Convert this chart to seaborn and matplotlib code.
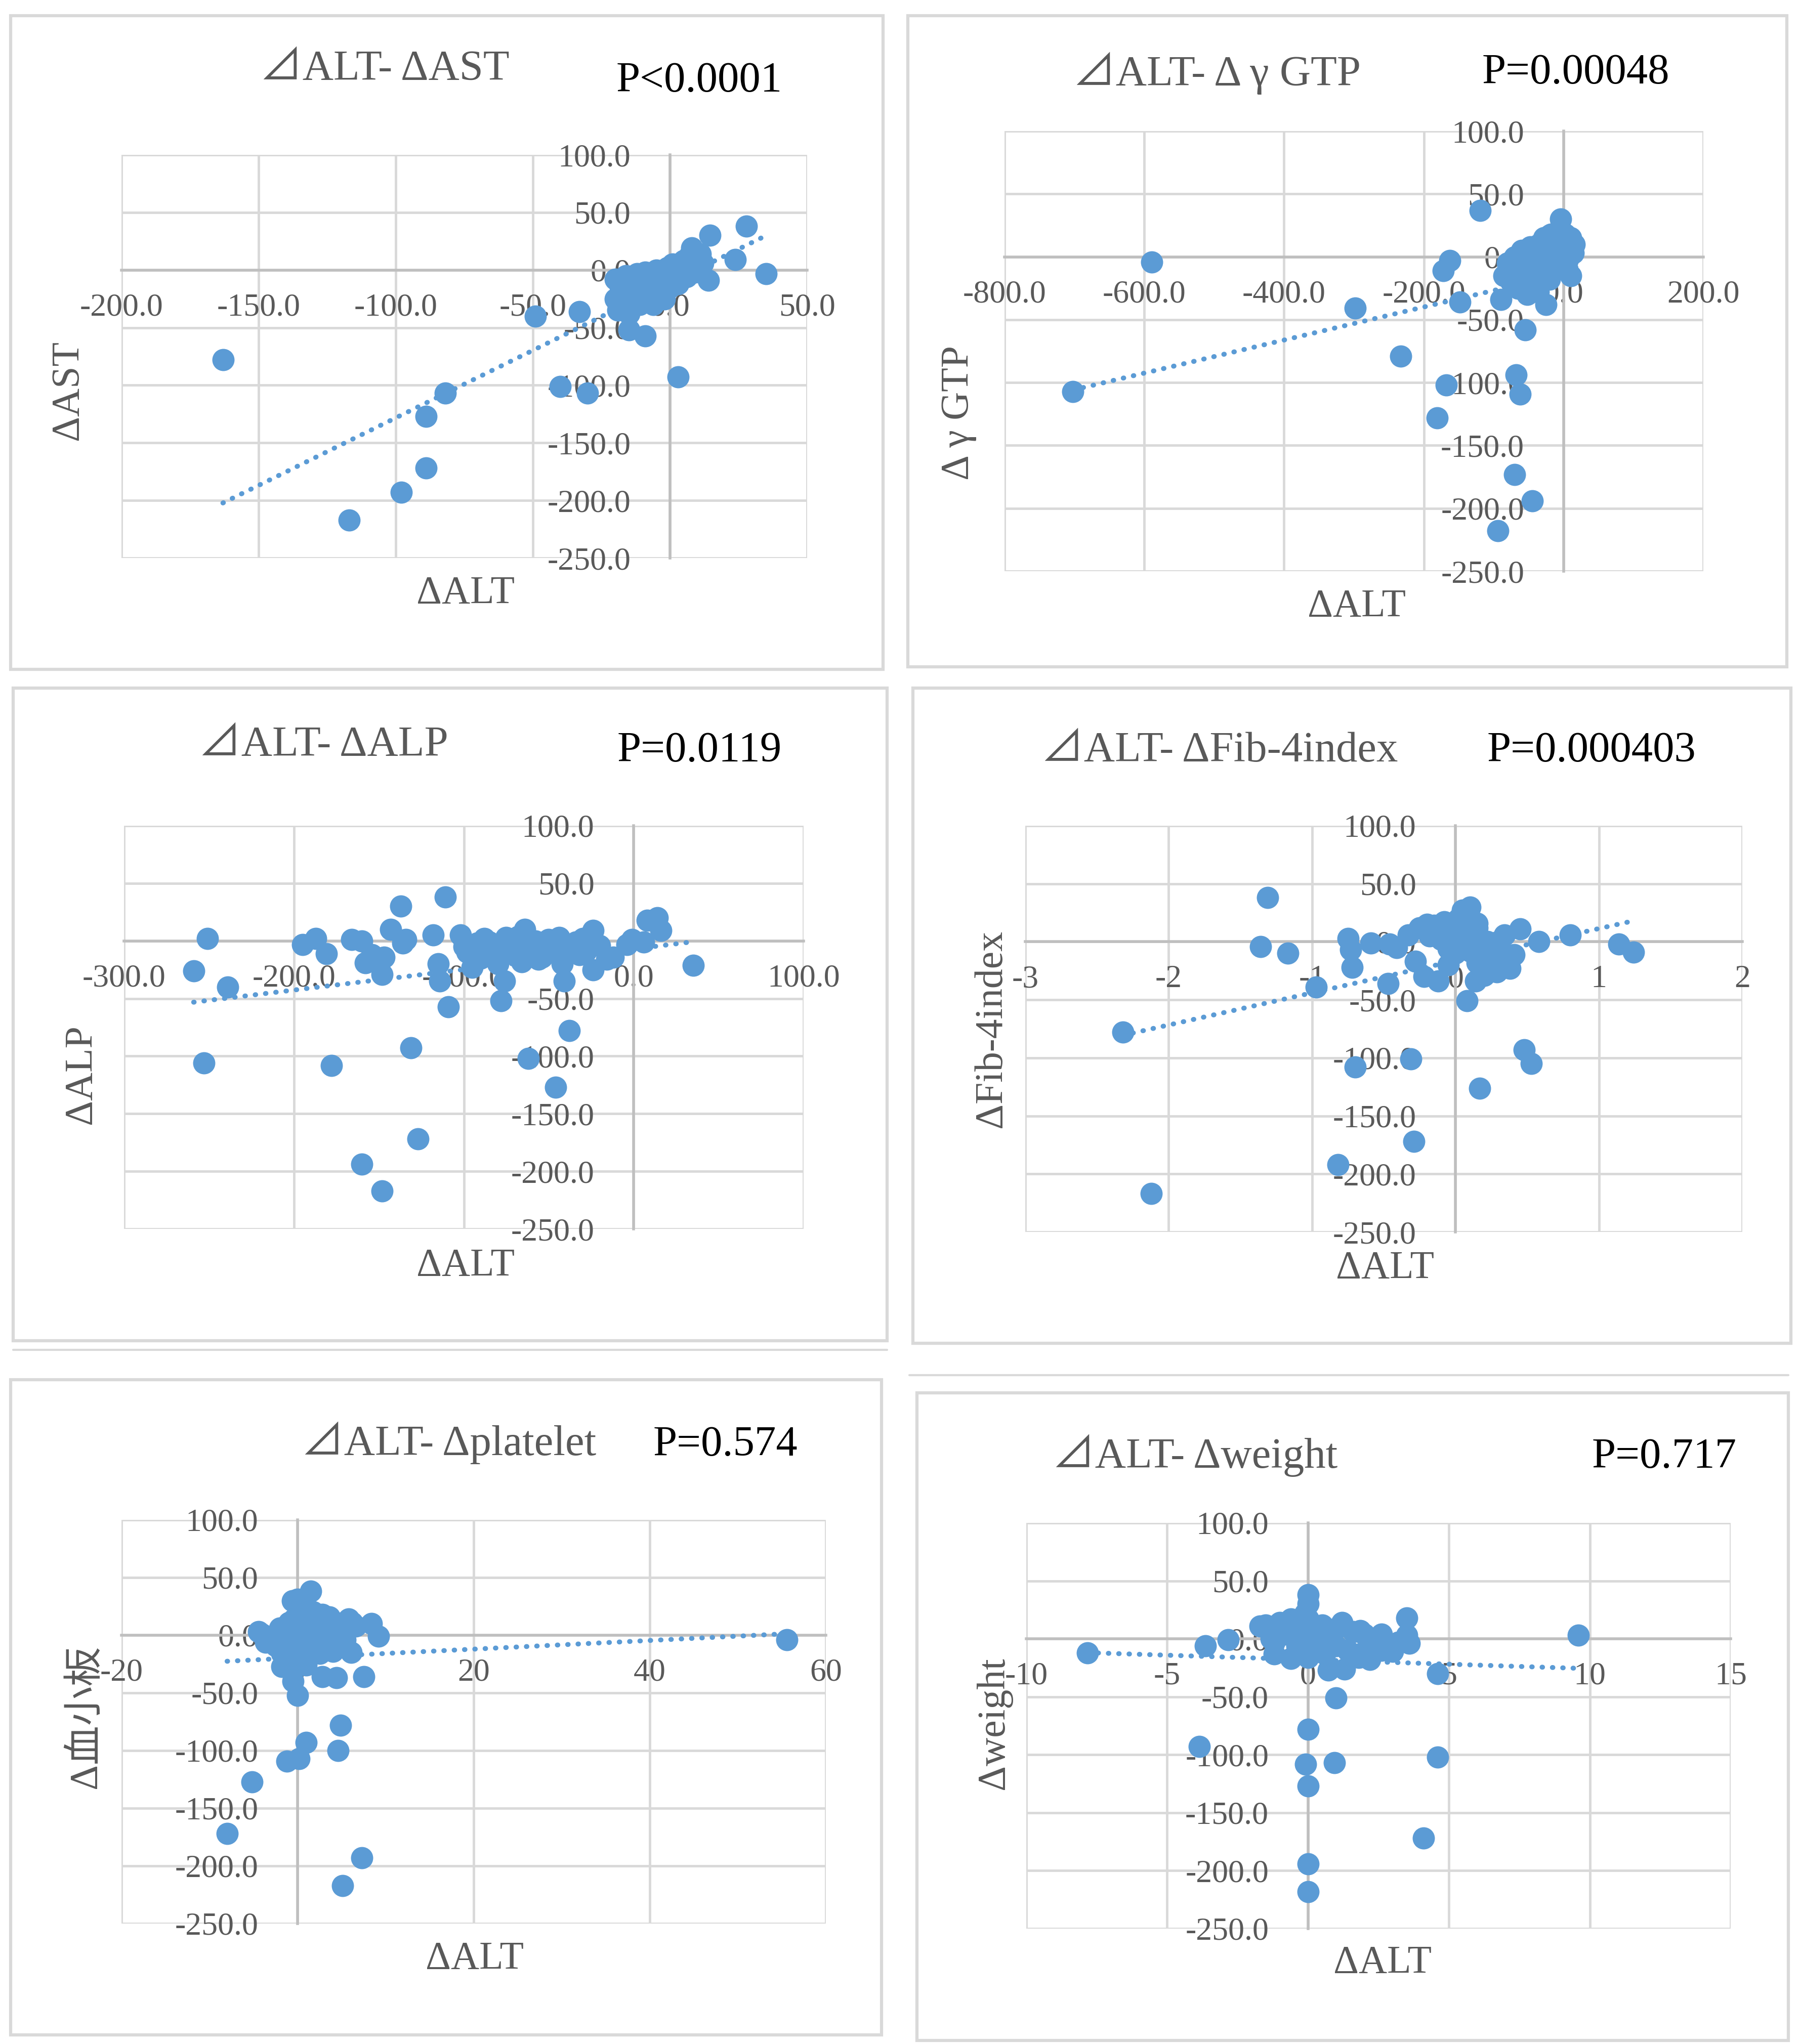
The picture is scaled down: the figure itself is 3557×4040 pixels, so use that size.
import numpy as np
import pandas as pd
import matplotlib
matplotlib.use("Agg")
import matplotlib.pyplot as plt
from matplotlib.patches import Rectangle
from matplotlib.lines import Line2D
from matplotlib.ticker import FixedLocator, FormatStrFormatter
import seaborn as sns

# ---------------- data ----------------
titles = ["⊿ALT- ΔAST", "⊿ALT- Δ γ GTP", "⊿ALT- ΔALP",
          "⊿ALT- ΔFib-4index", "⊿ALT- Δplatelet", "⊿ALT- Δweight"]
p_texts = ["P<0.0001", "P=0.00048", "P=0.0119", "P=0.000403", "P=0.574", "P=0.717"]
y_labels = ["ΔAST", "Δ γ GTP", "ΔALP", "ΔFib-4index", "Δ血小板", "Δweight"]
x_label = "ΔALT"

y_ticks = [100, 50, 0, -50, -100, -150, -200, -250]
x_ticks_ast = [-200, -150, -100, -50, 0, 50]
x_ticks_gtp = [-800, -600, -400, -200, 0, 200]
x_ticks_alp = [-300, -200, -100, 0, 100]
x_ticks_fib = [-3, -2, -1, 0, 1, 2]
x_ticks_plt = [-20, 0, 20, 40, 60]
x_ticks_wt = [-10, -5, 0, 5, 10, 15]

ast_x = [-163, -117, -98, -89, -89, -82, -49, -33, -40, -30, -15, -9, 3, 14.6, 27.8, 23.8, 35, 14, 8,
         -20, -20, -19, -18, -17, -16, -16, -15, -14, -13, -12, -12, -11, -10, -10, -9, -8, -8, -7, -6,
         -5, -5, -4, -3, -2, -1, 0, 0, 1, 2, 3, 4, 5, 6, 7, 8, 9, 10, 11, 12, -6, -2, 3, 6]
ast_y = [-78, -217, -193, -172, -127, -107, -40, -36, -101, -107, -52, -57, -93, 30, 38, 9, -3, -9, 19,
         -8, -25, -35, -15, -30, -5, -20, -38, -12, -25, -3, -18, -30, -8, -20, -2, -14, -25, -6, -18,
         0, -10, -22, -5, -12, 2, -3, -15, 5, -5, 3, -8, 8, 0, 12, 4, -2, 10, 14, 6, -30, -25, -12, -6]

gtp_x = [-702, -589, -119, -163, -172, -298, -148, -233, -168, -181, -68, -62, -70, -45, -94, -55, -90,
         -25, -4, -20, 8, 14,
         -85, -80, -75, -70, -68, -65, -60, -58, -55, -50, -48, -45, -42, -40, -38, -35, -32, -30, -28,
         -25, -22, -20, -18, -15, -12, -10, -8, -6, -4, -2, 0, 2, 4, 6, 10, 12, 15, -52, -36, 5, 10]
gtp_y = [-107, -4, 37, -3, -11, -41, -36, -79, -102, -128, -94, -109, -173, -194, -218, -58, -34,
         -38, 30, 17, 15, 3,
         -15, -5, -20, 0, -12, -25, 5, -8, -18, -2, 8, -10, -22, 2, -5, 10, -15, 0, 15,
         -8, 7, -18, 18, -2, 10, -10, 20, 4, -5, 13, 0, 18, 8, -2, 15, 5, 10, -30, -28, -10, -15]

alp_x = [-259, -251, -239, -253, -178, -195, -187, -181, -166, -160, -154, -158, -147, -148, -137, -143,
         -134, -136, -111, -118, -115, -114, -109, -131, -127, -160, -148, -102, -100, -95, -85, -78,
         -75, -76, -64, -62, -46, -38, -41, -50, -56, -34, -24, -24, -12, -4, -1, 6, 8, 14, 16, 35,
         -98, -92, -90, -88, -82, -80, -72, -70, -68, -66, -60, -58, -54, -52, -48, -44, -42, -36,
         -32, -30, -28, -20, -16]
alp_y = [-26, 2, -40, -106, -108, -3, 2, -11, 1, 0, -12, -19, -14, -29, 30, 10,
         1, -2, 38, 5, -20, -35, -57, -93, -172, -194, -217, 5, -5, -23, -1, -52,
         3, -35, 10, -102, -127, -78, -35, 1, -16, -1, -25, 9, -14, -3, 1, -1, 18, 20, 9, -21,
         -10, -2, -15, 2, -8, -20, -5, -12, 4, -18, -8, 0, -14, -4, -10, 3, -20, -6,
         -12, 2, -9, -4, -16]

fib_x = [-2.32, -2.12, -1.31, -1.36, -1.17, -0.97, -0.75, -0.73, -0.72, -0.59, -0.46, -0.41, -0.47,
         -0.33, -0.28, -0.70, -0.31, -0.29, -0.82, 0.17, 0.48, 0.53, 0.08, 0.10, 0.10, 0.45, 0.58, 0.80,
         1.14, 1.24, 0.41, 0.29, 0.14, -0.12, -0.22, 0.34, 0.22,
         -0.25, -0.2, -0.18, -0.15, -0.12, -0.1, -0.08, -0.05, -0.03, 0.0, 0.02, 0.04, 0.06, 0.08,
         0.1, 0.12, 0.15, 0.18, 0.2, 0.24, 0.27, 0.3, 0.35, 0.38, -0.05, 0.05, 0.15, 0.25,
         -0.1, 0.0, 0.05, 0.1, 0.15, 0.2, 0.25, 0.3]
fib_y = [-78, -217, 38, -4, -10, -39, 3, -7, -22, -1, -2, -5, -36,
         6, -17, -108, -101, -172, -192, -126, -93, -105, -51, 30, 19, 11, 0, 6,
         -2, -9, -11, -26, -34, -34, -30, 6, 0,
         12, 15, 5, 14, 12, 2, 17, -6, 4, -10, 20, 9, -2, 24,
         -8, 6, 16, 0, -29, -5, -19, 0, -11, -23, -20, 27, -18, -25,
         15, 5, 15, 8, 12, -12, -5, -9]

plt_x = [55.6, 1.5, -0.6, -8, -5.2, 7.3, 5.1, 4.9, 4.6, 1.0, -1.2, 0.2, 0, -0.5, 7.5, 4.4, 2.8, 8.4,
         9.2, 5.6, 2.5, -4.4, -3.2, -1.8, 6.1,
         -4, -3.6, -3.2, -2.8, -2.5, -2.2, -2, -1.8, -1.5, -1.2, -1, -0.8, -0.6, -0.4, -0.2, 0, 0,
         0.2, 0.4, 0.6, 0.8, 1, 1.2, 1.5, 1.8, 2, 2.2, 2.5, 2.8, 3, 3.3, 3.6, 4, 4.3, 4.6, 5, 5.4,
         5.8, 6.2, 6.6, -0.5, 0.5, 1.5, 2.5, 3.5]
plt_y = [-4, 38, 30, -172, -127, -193, -217, -78, -100, -93, -109, -107, -52, -40, -36, -37, -36, 10,
         -1, 7, 10, 3, -4, -27, -15,
         1, -6, -4, -2, -9, -9, 6, -16, -4, -22, 11, -12, 1, 14, -6, 31, -24,
         1, 18, -9, 9, -26, 14, -2, 20, -12, 11, -16, 18, 1, -9, 16, -14, 11, 1, 8, -4,
         14, 11, 8, -27, 26, 12, -2, 8]

wt_x = [-7.82, 9.6, 4.6, 4.6, 4.1, 0, 0, 0, -0.08, 0.94, 0, 1.0, -3.85, -3.65, -2.83, -1.7, -1.3, -1.2,
        -0.6, -0.6, 0, 0, 0, 0.22, 0.73, 1.3, 1.08, 1.85, 1.85, 2.6, 3.5, 3.5, 3.6, 3.0, 0.73,
        -1.5, -1.2, -1, -0.8, -0.6, -0.4, -0.3, -0.2, -0.1, 0, 0, 0, 0, 0.1, 0.2, 0.3, 0.4, 0.5,
        0.6, 0.8, 1, 1.2, 1.4, 1.6, 1.8, 2, 2.2, 2.4, 2.6, 2.8, 3, 3.2]
wt_y = [-12, 3, -30, -102, -172, -218, -194, -127, -108, -107, -78, -51, -93, -6, -1, 11, 0, -13,
        6, -17, 38, 30, 17, 8, -27, -26, 10, 7, -13, 4, 18, 3, -4, -11, -4,
        12, -3, 14, 4, 17, -6, 10, -1, 22, 7, -8, 14, -16, 5, -10, 10, -3, 12,
        -13, 8, -6, 14, -10, 6, -16, 4, -18, -4, -10, -8, -8, -3]

xs = [ast_x, gtp_x, alp_x, fib_x, plt_x, wt_x]
ys = [ast_y, gtp_y, alp_y, fib_y, plt_y, wt_y]
xticks = [x_ticks_ast, x_ticks_gtp, x_ticks_alp, x_ticks_fib, x_ticks_plt, x_ticks_wt]
xfmts = ["%.1f", "%.1f", "%.1f", "%d", "%d", "%d"]

# ---------------- layout (pixels in a 3557 x 4040 canvas) ----------------
W, H = 3557, 4040
plot_boxes = [(240, 306, 1595, 1103), (1985, 259, 3366, 1129),
              (245, 1632, 1588, 2429), (2026, 1632, 3443, 2435),
              (240, 3004, 1632, 3802), (2028, 3010, 3420, 3812)]
panel_boxes = [(21, 31, 1745, 1323), (1794, 31, 3531, 1318),
               (26, 1360, 1753, 2650), (1804, 1360, 3539, 2655),
               (21, 2727, 1742, 4022), (1812, 2753, 3534, 4033)]
title_pos = [(760, 137), (2405, 145), (639, 1474), (2410, 1484), (887, 2852), (2361, 2877)]
p_pos = [(1382, 161), (3114, 145), (1382, 1484), (3145, 1484), (1433, 2857), (3289, 2880)]
xlab_pos = [(920, 1173), (2681, 1199), (920, 2502), (2737, 2507), (938, 3872), (2732, 3880)]
ylab_pos = [(134, 772), (1894, 816), (160, 2124), (1959, 2033), (170, 3393), (1964, 3406)]

sns.set_theme(style="white")
FAM = ["Liberation Serif", "Noto Sans CJK JP", "DejaVu Sans"]
plt.rcParams["font.family"] = FAM
plt.rcParams["axes.unicode_minus"] = False

BLUE = "#5B9BD5"
TXT = "#595959"
GRID = "#D9D9D9"
AXIS = "#BFBFBF"

fig = plt.figure(figsize=(W / 100, H / 100), dpi=100)
fig.patch.set_facecolor("white")

def fx(px):
    return px / W

def fy(py):
    return 1 - py / H

for (x0, y0, x1, y1) in panel_boxes:
    fig.patches.append(Rectangle((fx(x0), fy(y1)), fx(x1 - x0), (y1 - y0) / H,
                                 transform=fig.transFigure, fill=False,
                                 edgecolor=GRID, linewidth=4.5))
fig.lines.append(Line2D([fx(26), fx(1753)], [fy(2668), fy(2668)], transform=fig.transFigure,
                        color=GRID, linewidth=3))
fig.lines.append(Line2D([fx(1797), fx(3534)], [fy(2718), fy(2718)], transform=fig.transFigure,
                        color=GRID, linewidth=3))

for i in range(6):
    x0, y0, x1, y1 = plot_boxes[i]
    ax = fig.add_axes([fx(x0), fy(y1), fx(x1 - x0), (y1 - y0) / H])
    df = pd.DataFrame({"x": xs[i], "y": ys[i]})
    sns.regplot(data=df, x="x", y="y", ax=ax, ci=None, truncate=True,
                scatter_kws=dict(s=1000, color=BLUE, alpha=1, linewidths=0, zorder=3),
                line_kws=dict(color=BLUE, linewidth=7, linestyle=(0, (0.1, 2.0)),
                              dash_capstyle="round", zorder=4))
    ax.set_xlim(xticks[i][0], xticks[i][-1])
    ax.set_ylim(-250, 100)
    ax.xaxis.set_major_locator(FixedLocator(xticks[i]))
    ax.yaxis.set_major_locator(FixedLocator(y_ticks))
    ax.xaxis.set_major_formatter(FormatStrFormatter(xfmts[i]))
    ax.yaxis.set_major_formatter(FormatStrFormatter("%.1f"))
    ax.grid(True, color=GRID, linewidth=3.5)
    ax.set_axisbelow(True)
    for s in ["top", "right"]:
        ax.spines[s].set_visible(False)
    ax.spines["bottom"].set_position(("data", 0))
    ax.spines["left"].set_position(("data", 0))
    for s in ["bottom", "left"]:
        ax.spines[s].set_color(AXIS)
        ax.spines[s].set_linewidth(4)
        ax.spines[s].set_zorder(2)
    ax.tick_params(axis="x", length=0, pad=33, labelsize=46, labelcolor=TXT)
    ax.tick_params(axis="y", length=0, pad=56, labelsize=46, labelcolor=TXT)
    ax.set_xlabel("")
    ax.set_ylabel("")
    ax.set_facecolor("none")

    fig.text(fx(title_pos[i][0]), fy(title_pos[i][1]), titles[i], ha="center", va="center",
             fontsize=61, color=TXT, family=FAM)
    fig.text(fx(p_pos[i][0]), fy(p_pos[i][1]), p_texts[i], ha="center", va="center",
             fontsize=61, color="black", family=FAM)
    fig.text(fx(xlab_pos[i][0]), fy(xlab_pos[i][1]), x_label, ha="center", va="center",
             fontsize=56, color=TXT, family=FAM)
    fig.text(fx(ylab_pos[i][0]), fy(ylab_pos[i][1]), y_labels[i], ha="center", va="center",
             rotation=90, fontsize=56, color=TXT, family=FAM)

fig.savefig("out.png", dpi=100, facecolor="white")
